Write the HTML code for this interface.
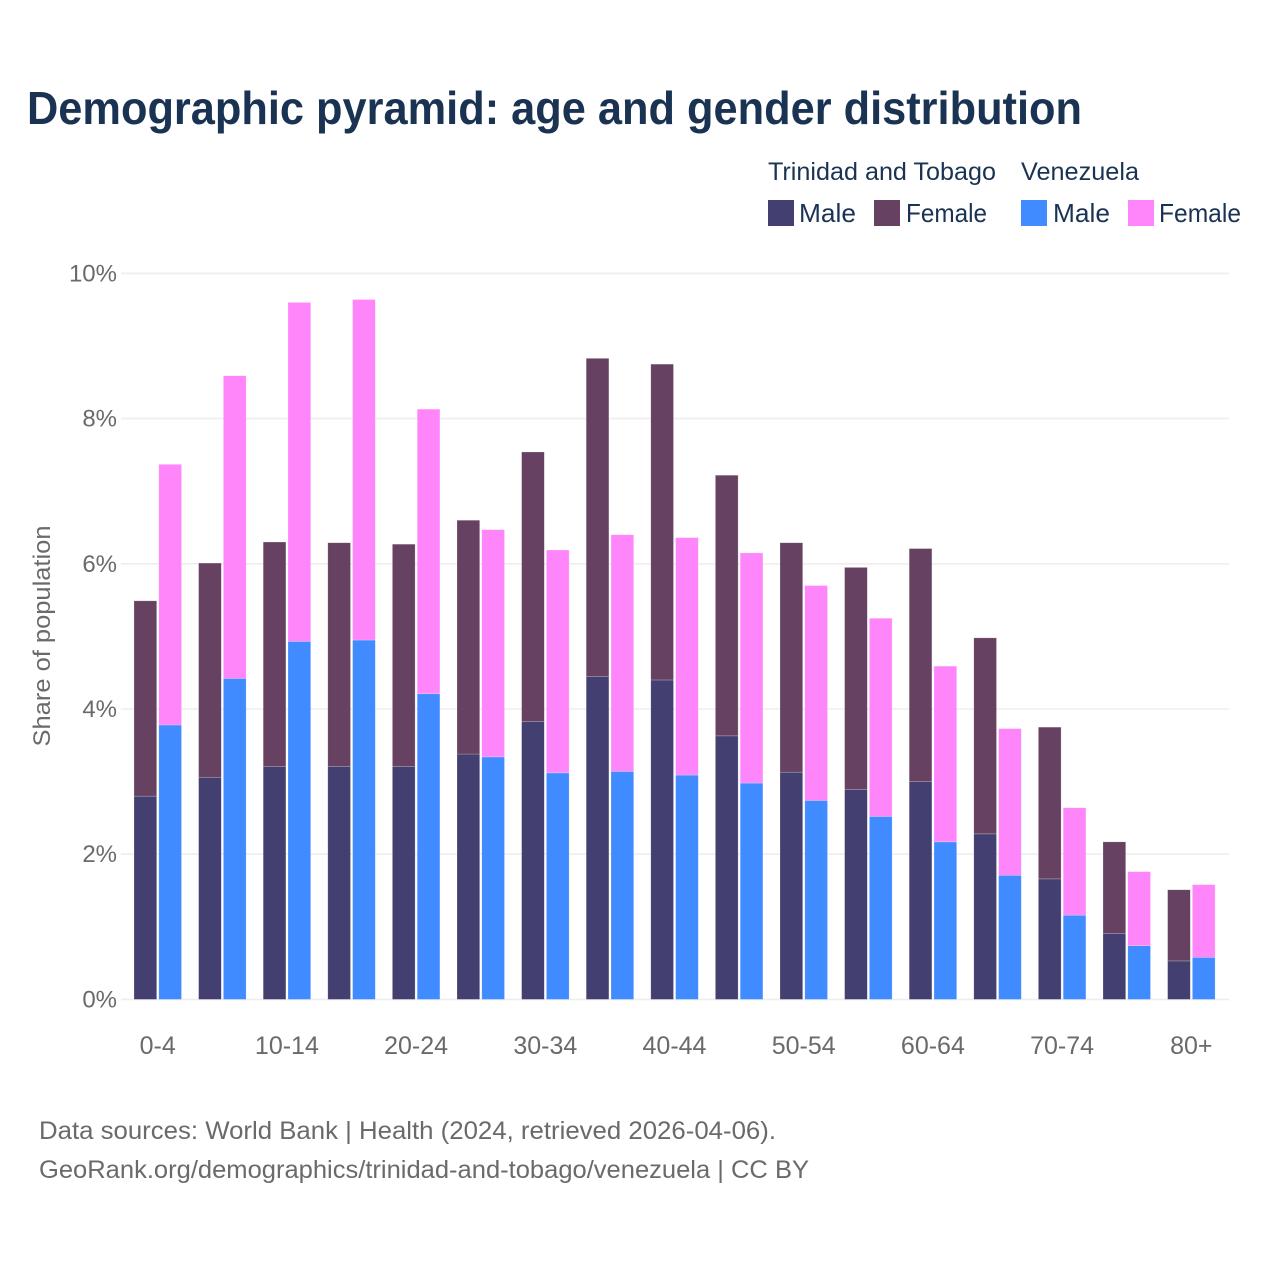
<!DOCTYPE html>
<html lang="en">
<head>
<meta charset="utf-8">
<title>Demographic pyramid</title>
<style>
html,body{margin:0;padding:0;background:#fff;}
svg{display:block;font-family:"Liberation Sans",sans-serif;}
</style>
</head>
<body>
<svg id="chart" xmlns="http://www.w3.org/2000/svg" width="1280" height="1280" viewBox="0 0 1280 1280">
<rect x="0" y="0" width="1280" height="1280" fill="#fff"/>
<text x="27" y="124" font-size="46" font-weight="700" fill="#1b3353" textLength="1055" lengthAdjust="spacingAndGlyphs">Demographic pyramid: age and gender distribution</text>
<text x="768" y="180" font-size="25" fill="#1b3353" textLength="228" lengthAdjust="spacingAndGlyphs">Trinidad and Tobago</text>
<text x="1021" y="180" font-size="25" fill="#1b3353" textLength="118" lengthAdjust="spacingAndGlyphs">Venezuela</text>
<g>
<rect x="768" y="200" width="26" height="26" fill="#433f70"/>
<text x="799" y="222" font-size="26" fill="#1b3353" textLength="57" lengthAdjust="spacingAndGlyphs">Male</text>
</g>
<g>
<rect x="874" y="200" width="26" height="26" fill="#674161"/>
<text x="906" y="222" font-size="26" fill="#1b3353" textLength="81" lengthAdjust="spacingAndGlyphs">Female</text>
</g>
<g>
<rect x="1021" y="200" width="26" height="26" fill="#408bff"/>
<text x="1053" y="222" font-size="26" fill="#1b3353" textLength="57" lengthAdjust="spacingAndGlyphs">Male</text>
</g>
<g>
<rect x="1128" y="200" width="26" height="26" fill="#ff85fb"/>
<text x="1159" y="222" font-size="26" fill="#1b3353" textLength="82" lengthAdjust="spacingAndGlyphs">Female</text>
</g>
<g id="grid"></g>
<g id="bars"></g>
<g id="yticks"></g>
<g id="xticks"></g>
<text transform="translate(50,636) rotate(-90)" text-anchor="middle" font-size="24" fill="#6a6a6a" textLength="221" lengthAdjust="spacingAndGlyphs">Share of population</text>
<text x="39" y="1139" font-size="25" fill="#6a6a6a" textLength="737" lengthAdjust="spacingAndGlyphs">Data sources: World Bank | Health (2024, retrieved 2026-04-06).</text>
<text x="39" y="1178" font-size="25" fill="#6a6a6a" textLength="770" lengthAdjust="spacingAndGlyphs">GeoRank.org/demographics/trinidad-and-tobago/venezuela | CC BY</text>
</svg>
<script>
const categories = ["0-4","5-9","10-14","15-19","20-24","25-29","30-34","35-39","40-44","45-49","50-54","55-59","60-64","65-69","70-74","75-79","80+"];
const shownCategoryLabels = ["0-4","10-14","20-24","30-34","40-44","50-54","60-64","70-74","80+"];
const yTicks = [0,2,4,6,8,10];
const ttMale = [2.80,3.06,3.21,3.21,3.21,3.38,3.83,4.45,4.40,3.63,3.13,2.89,3.00,2.28,1.66,0.91,0.53];
const ttFemale = [2.69,2.95,3.09,3.08,3.06,3.22,3.71,4.38,4.35,3.59,3.16,3.06,3.21,2.70,2.09,1.26,0.98];
const veMale = [3.78,4.42,4.93,4.95,4.21,3.34,3.12,3.14,3.09,2.98,2.74,2.52,2.17,1.71,1.16,0.74,0.58];
const veFemale = [3.59,4.17,4.67,4.69,3.92,3.13,3.07,3.26,3.27,3.17,2.96,2.73,2.42,2.02,1.48,1.02,1.00];

const NS = "http://www.w3.org/2000/svg";
const yScale = v => 999.4 - v * 72.6;
const groupX = i => 134 + i * 64.6;
const barW = 22.7;
const barGap = 24.8;

function makeRect(parent, x, y0, y1, fill) {
  const r = document.createElementNS(NS, "rect");
  r.setAttribute("x", x);
  r.setAttribute("y", yScale(y1));
  r.setAttribute("width", barW);
  r.setAttribute("height", Math.max(0, yScale(y0) - yScale(y1)));
  r.setAttribute("fill", fill);
  r.setAttribute("stroke", "rgba(255,255,255,0.35)");
  r.setAttribute("stroke-width", "0.6");
  parent.appendChild(r);
  return r;
}
function makeText(parent, x, y, str, anchor, size) {
  const t = document.createElementNS(NS, "text");
  t.setAttribute("x", x);
  t.setAttribute("y", y);
  t.setAttribute("font-size", size);
  t.setAttribute("fill", "#6a6a6a");
  t.setAttribute("text-anchor", anchor);
  t.textContent = str;
  parent.appendChild(t);
  return t;
}

const grid = document.getElementById("grid");
const yticksG = document.getElementById("yticks");
yTicks.forEach(v => {
  const l = document.createElementNS(NS, "line");
  l.setAttribute("x1", 121);
  l.setAttribute("x2", 1229);
  l.setAttribute("y1", yScale(v));
  l.setAttribute("y2", yScale(v));
  l.setAttribute("stroke", "#eeeeee");
  l.setAttribute("stroke-width", "1.6");
  
  
  grid.appendChild(l);
  const t = makeText(yticksG, 117, yScale(v) + 8, v + "%", "end", 24);
  
  
});

const barsG = document.getElementById("bars");
categories.forEach((c, i) => {
  const x = groupX(i);
  const a = makeRect(barsG, x, 0, ttMale[i], "#433f70");
  
  
  const b = makeRect(barsG, x, ttMale[i], ttMale[i] + ttFemale[i], "#674161");
  
  
  const d = makeRect(barsG, x + barGap, 0, veMale[i], "#408bff");
  
  
  const e = makeRect(barsG, x + barGap, veMale[i], veMale[i] + veFemale[i], "#ff85fb");
  
  
});

const xticksG = document.getElementById("xticks");
categories.forEach((c, i) => {
  if (shownCategoryLabels.indexOf(c) < 0) return;
  const t = makeText(xticksG, groupX(i) + 23.7, 1054, c, "middle", 25);
  
  
});
</script>
</body>
</html>
